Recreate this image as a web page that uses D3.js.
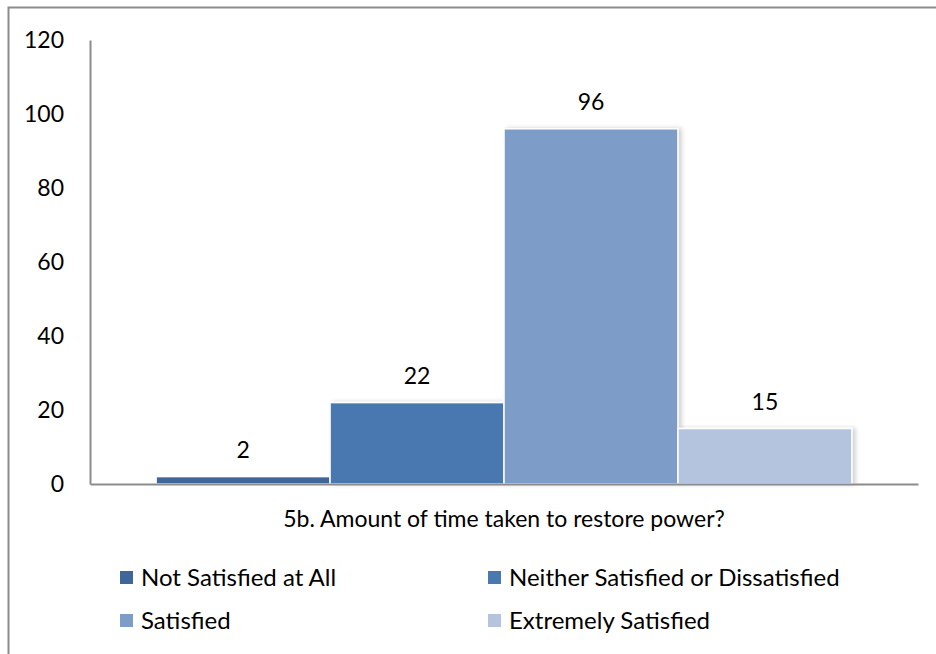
<!DOCTYPE html>
<html>
<head>
<meta charset="utf-8">
<script src="https://cdn.jsdelivr.net/npm/d3@7"></script>
<style>
  body { margin: 0; background: #fff; }
  svg { display: block; font-family: Lato, "Open Sans", sans-serif; }
</style>
</head>
<body>
<div id="svg-container"></div>
<script>
// Data
const categories = ["5b. Amount of time taken to restore power?"];
const seriesNames = [
  "Not Satisfied at All",
  "Neither Satisfied or Dissatisfied",
  "Satisfied",
  "Extremely Satisfied",
];
const seriesValues = [2, 22, 96, 15];
const seriesColors = ["#3f6699", "#4a78b0", "#7e9cc8", "#b5c4de"];
const yTicks = [0, 20, 40, 60, 80, 100, 120];

const width = 936;
const height = 654;
const margin = { top: 40, right: 18, bottom: 170, left: 90 };

const svg = d3
  .select("#svg-container")
  .append("svg")
  .attr("width", width)
  .attr("height", height);

// outer frame
svg
  .append("rect")
  .attr("x", 8.5)
  .attr("y", 7.5)
  .attr("width", width)
  .attr("height", height)
  .attr("fill", "none")
  .attr("stroke", "#8c8c8c")
  .attr("stroke-width", 2);

// shadow filter for bars
const defs = svg.append("defs");
const f = defs.append("filter").attr("id", "shadow").attr("x", "-5%").attr("y", "-5%").attr("width", "115%").attr("height", "115%");
f.append("feDropShadow")
  .attr("dx", 3)
  .attr("dy", 0)
  .attr("stdDeviation", 2)
  .attr("flood-color", "#000")
  .attr("flood-opacity", 0.18);

// Scales
const xScale = d3
  .scaleBand()
  .domain(categories)
  .range([margin.left, width - margin.right])
  .paddingInner(0)
  .paddingOuter(0.095);

const xSub = d3
  .scaleBand()
  .domain(seriesNames)
  .range([0, xScale.bandwidth()])
  .padding(0);

const yScale = d3
  .scaleLinear()
  .domain([0, 120])
  .range([height - margin.bottom, margin.top]);

// Bars
const bars = svg.append("g");
bars
  .selectAll("rect")
  .data(seriesValues)
  .enter()
  .append("rect")
  .attr("x", (d, i) => xScale(categories[0]) + xSub(seriesNames[i]))
  .attr("y", (d) => yScale(d))
  .attr("width", xSub.bandwidth())
  .attr("height", (d) => yScale(0) - yScale(d))
  .attr("fill", (d, i) => seriesColors[i])
  .attr("stroke", "#fff")
  .attr("stroke-width", 1.5)
  .attr("filter", "url(#shadow)");

// Value labels
bars
  .selectAll("text")
  .data(seriesValues)
  .enter()
  .append("text")
  .attr("x", (d, i) => xScale(categories[0]) + xSub(seriesNames[i]) + xSub.bandwidth() / 2)
  .attr("y", (d) => yScale(d) - 19)
  .attr("text-anchor", "middle")
  .attr("font-size", 23)
  .attr("fill", "#000")
  .text((d) => d);

// Y axis
const yAxis = d3.axisLeft(yScale).tickValues(yTicks).tickSize(0).tickPadding(26);
const yG = svg.append("g").attr("transform", `translate(${margin.left},0)`).call(yAxis);
yG.select(".domain").attr("stroke", "#8c8c8c").attr("stroke-width", 2);
yG.selectAll("text").attr("font-size", 23).attr("fill", "#000").attr("font-family", "Lato, sans-serif");

// X axis
const xAxis = d3.axisBottom(xScale).tickSize(0).tickPadding(27);
const xG = svg.append("g").attr("transform", `translate(0,${yScale(0)})`).call(xAxis);
xG.select(".domain").attr("stroke", "#8c8c8c").attr("stroke-width", 2);
xG.selectAll("text").attr("font-size", 23).attr("fill", "#000").attr("font-family", "Lato, sans-serif");

// Legend
const legendCols = [120, 488];
const legendRows = [578, 621];
const legend = svg
  .append("g")
  .selectAll("g")
  .data(seriesNames)
  .enter()
  .append("g")
  .attr("transform", (d, i) => `translate(${legendCols[i % 2]},${legendRows[Math.floor(i / 2)]})`);

legend
  .append("rect")
  .attr("x", 0)
  .attr("y", -7)
  .attr("width", 13)
  .attr("height", 13)
  .attr("fill", (d, i) => seriesColors[i]);

legend
  .append("text")
  .attr("x", 21)
  .attr("y", 0)
  .attr("dy", "0.35em")
  .attr("font-size", 24)
  .attr("fill", "#000")
  .text((d) => d);
</script>
</body>
</html>
